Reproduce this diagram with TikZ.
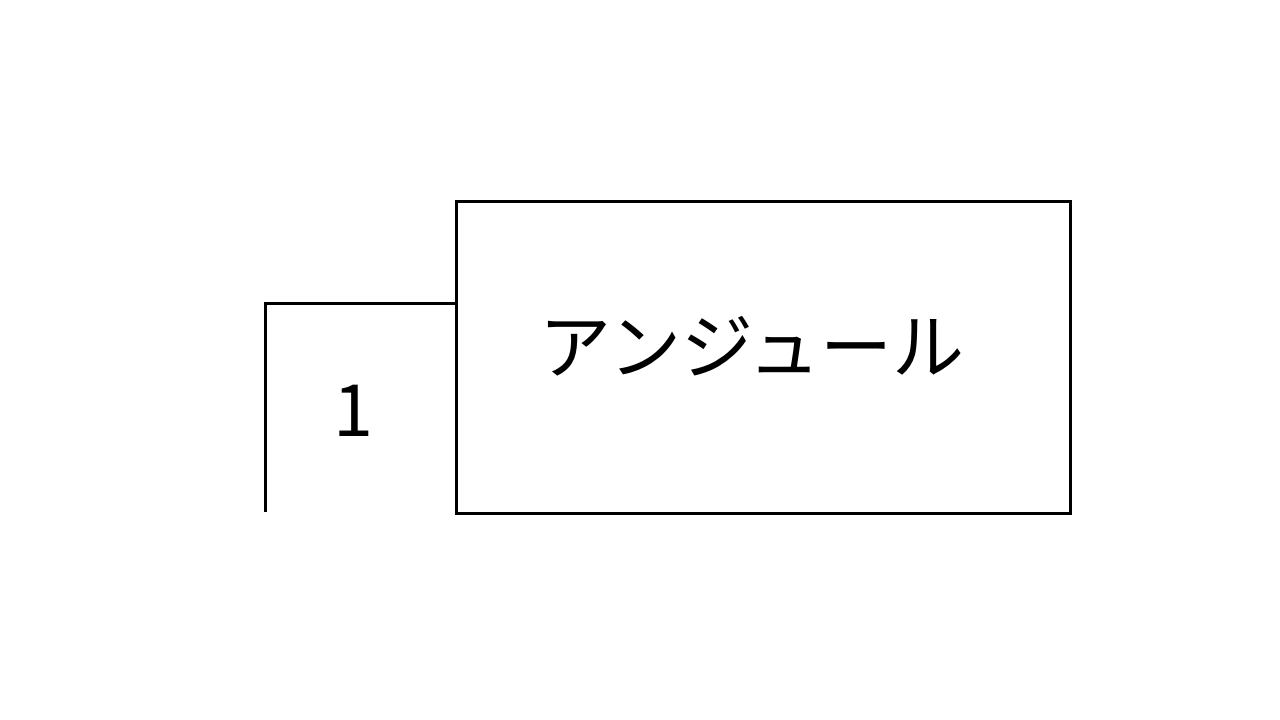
\documentclass[tikz,border=0pt]{standalone}
\usepackage{fontspec}
\setmainfont{Noto Sans CJK JP}
\begin{document}
\begin{tikzpicture}[x=1pt,y=-1pt,
  edge/.style={line width=3pt,black},
  lbl/.style={font=\fontsize{72}{80}\selectfont,inner sep=0pt}]
\useasboundingbox (0,0) rectangle (1280,720);
\draw[edge] (456,201) rectangle (1070,513);
\coordinate (boxL) at (456,303);
\coordinate (corner) at (265,303);
\coordinate (bottom) at (265,512);
\draw[edge,line join=miter] (bottom) -- (corner) -- (boxL);
\node[lbl] (name) at (752,346) {アンジュール};
\node[lbl] (num) at (353,411) {1};
\end{tikzpicture}
\end{document}
